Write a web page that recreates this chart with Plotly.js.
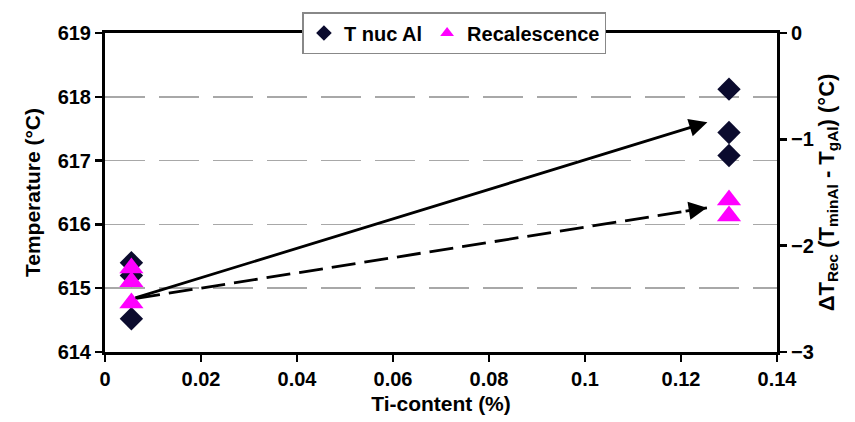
<!DOCTYPE html>
<html>
<head>
<meta charset="utf-8">
<script src="https://cdn.plot.ly/plotly-3.0.1.min.js"></script>
<style>html,body{margin:0;padding:0;background:#fff;}#chart{width:855px;height:422px;}</style>
</head>
<body>
<div id="chart"></div>
<script>
// Data
var tnucX = [0.0055, 0.0055, 0.0055, 0.13, 0.13, 0.13];
var tnucY = [615.40, 615.20, 614.52, 618.12, 617.44, 617.08];
var recX = [0.0055, 0.0055, 0.0055, 0.13, 0.13];
var recY = [-2.21, -2.34, -2.54, -1.57, -1.72];
// Arrows: [x0, y0, x1, y1] (tail -> head), left axis units
var arrowSolid = [0.0060, 614.84, 0.1255, 617.60];
var arrowDashed = [0.0065, 614.84, 0.1254, 616.26];
var xTicks = [0, 0.02, 0.04, 0.06, 0.08, 0.1, 0.12, 0.14];
var xTickText = ['0', '0.02', '0.04', '0.06', '0.08', '0.1', '0.12', '0.14'];

var FONT = 'Liberation Sans, Arial, sans-serif';
var TICK = 20, TITLE = 21;

var traces = [
  {x: [arrowDashed[0], arrowDashed[2]], y: [arrowDashed[1], arrowDashed[3]], mode: 'lines',
   line: {color: '#000', width: 2.8, dash: '24px,9px'}, showlegend: false, hoverinfo: 'skip', xaxis: 'x', yaxis: 'y'},
  {x: tnucX, y: tnucY, mode: 'markers', name: 'T nuc Al', xaxis: 'x', yaxis: 'y',
   marker: {symbol: 'diamond', size: 18, color: '#0b0b2e'}},
  {x: recX, y: recY, mode: 'markers', name: 'Recalescence', xaxis: 'x', yaxis: 'y2',
   marker: {symbol: 'triangle-up', size: 21, color: '#ff00ff'}}
];

var k = 0.04;
var annotations = [
  {x: arrowSolid[2], y: arrowSolid[3], ax: arrowSolid[0], ay: arrowSolid[1], xref: 'x', yref: 'y', axref: 'x', ayref: 'y',
   text: '', showarrow: true, arrowhead: 2, arrowsize: 1.3, arrowwidth: 2.8, arrowcolor: '#000', standoff: 0},
  {x: arrowDashed[2], y: arrowDashed[3],
   ax: arrowDashed[2] - k * (arrowDashed[2] - arrowDashed[0]), ay: arrowDashed[3] - k * (arrowDashed[3] - arrowDashed[1]),
   xref: 'x', yref: 'y', axref: 'x', ayref: 'y',
   text: '', showarrow: true, arrowhead: 2, arrowsize: 1.3, arrowwidth: 2.8, arrowcolor: '#000', standoff: 0}
];

var layout = {
  width: 855, height: 422,
  margin: {l: 105, r: 78, t: 27, b: 70},
  paper_bgcolor: '#fff', plot_bgcolor: '#fff',
  font: {family: FONT, size: TICK, color: '#000', weight: 'bold'},
  showlegend: true,
  legend: {orientation: 'h', x: 0.52, xanchor: 'center', y: 1.0, yanchor: 'middle',
    bgcolor: '#fff', bordercolor: '#888', borderwidth: 1.5,
    font: {family: FONT, size: 20, color: '#000', weight: 'bold'}, itemsizing: 'constant', itemwidth: 30, tracegroupgap: 0},
  xaxis: {range: [0, 0.14], tickvals: xTicks, ticktext: xTickText, showgrid: false, zeroline: false,
    showline: true, linecolor: '#000', linewidth: 3, mirror: true,
    ticks: 'outside', ticklen: 7, tickwidth: 2.5, tickcolor: '#000',
    tickfont: {family: FONT, size: TICK, weight: 'bold'},
    title: {text: 'Ti-content (%)', font: {family: FONT, size: TITLE, weight: 'bold'}, standoff: 8}},
  yaxis: {range: [614, 619], dtick: 1, tick0: 614, zeroline: false,
    showgrid: true, gridcolor: '#a8a8a8', gridwidth: 1.5, griddash: '40px,14px',
    showline: true, linecolor: '#000', linewidth: 3,
    ticks: 'outside', ticklen: 7, tickwidth: 2.5, tickcolor: '#000',
    tickfont: {family: FONT, size: TICK, weight: 'bold'},
    title: {text: 'Temperature (°C)', font: {family: FONT, size: TITLE, weight: 'bold'}, standoff: 12}},
  yaxis2: {range: [-3, 0], dtick: 1, tick0: -3, overlaying: 'y', side: 'right', zeroline: false, showgrid: false,
    showline: true, linecolor: '#000', linewidth: 3,
    ticks: 'outside', ticklen: 7, tickwidth: 2.5, tickcolor: '#000',
    tickfont: {family: FONT, size: TICK, weight: 'bold'},
    title: {text: 'ΔT<sub>Rec</sub> (T<sub>minAl</sub> - T<sub>gAl</sub>) (°C)', font: {family: FONT, size: 22, weight: 'bold'}, standoff: 6}},
  annotations: annotations
};

Plotly.newPlot('chart', traces, layout, {displayModeBar: false, staticPlot: true});
</script>
</body>
</html>
